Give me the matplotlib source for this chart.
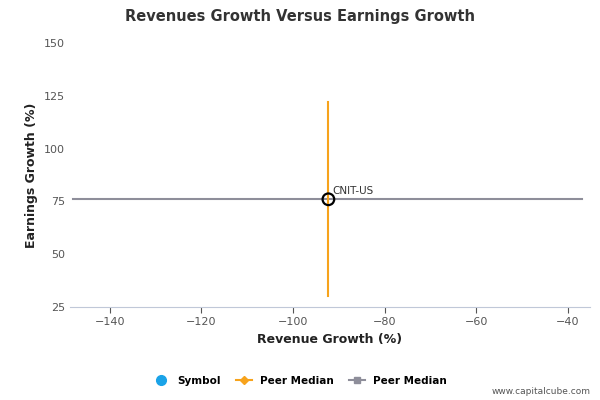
import matplotlib
matplotlib.use("Agg")
import matplotlib.pyplot as plt
from matplotlib.lines import Line2D

symbol_x = [-92.3]
symbol_y = [76]
symbol_label = ["CNIT-US"]
peer_v_x = [-92.3, -92.3]
peer_v_y = [30, 122]
peer_h_x = [-148, -37]
peer_h_y = [76, 76]
xticks = [-140, -120, -100, -80, -60, -40]
yticks = [25, 50, 75, 100, 125, 150]

fig = plt.figure(figsize=(6, 4), dpi=100)
ax = fig.add_axes([70/600, 1-307/400, 520/600, 264/400])
ax.set_xlim(-148.7, -35.2)
ax.set_ylim(25, 150)
ax.plot(peer_h_x, peer_h_y, color="#8e8e9a", lw=1.5, zorder=2)
ax.plot(peer_v_x, peer_v_y, color="#f7a31c", lw=1.5, zorder=3)
ax.scatter(symbol_x, symbol_y, s=70, facecolor="none", edgecolor="black", linewidth=1.6, zorder=4)
for x, y, t in zip(symbol_x, symbol_y, symbol_label):
    ax.annotate(t, (x, y), xytext=(3, 4), textcoords="offset points", fontsize=7.5, color="#333333")
ax.set_xticks(xticks)
ax.set_yticks(yticks)
ax.tick_params(labelsize=8, colors="#555555", length=4)
ax.tick_params(axis="y", length=0)
for s in ["top", "right", "left"]:
    ax.spines[s].set_visible(False)
ax.spines["bottom"].set_color("#c0c8d8")
ax.set_xlabel("Revenue Growth (%)", fontsize=9, fontweight="bold", color="#222222")
ax.set_ylabel("Earnings Growth (%)", fontsize=9, fontweight="bold", color="#222222")
fig.text(0.5, 1-17/400, "Revenues Growth Versus Earnings Growth", ha="center", va="center",
         fontsize=10.5, fontweight="bold", color="#333333")
handles = [
    Line2D([], [], marker="o", color="none", markerfacecolor="#1aa3e8", markeredgecolor="#1aa3e8", markersize=7),
    Line2D([], [], marker="D", color="#f7a31c", markersize=4, lw=1.5),
    Line2D([], [], marker="s", color="#8e8e9a", markersize=5, lw=1.5),
]
fig.legend(handles, ["Symbol", "Peer Median", "Peer Median"], loc="center", bbox_to_anchor=(0.5, 1-381/400),
           ncol=3, frameon=False, prop={"size": 7.5, "weight": "bold"}, handlelength=1.5, columnspacing=1.5)
fig.text(0.985, 1-392/400, "www.capitalcube.com", ha="right", va="center", fontsize=6.5, color="#555555")
fig.savefig("out.png", dpi=100)
